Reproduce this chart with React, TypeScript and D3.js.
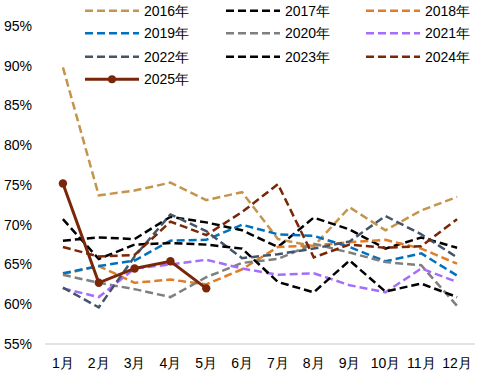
import React from "react";
import * as d3 from "d3";

const months = ["1月","2月","3月","4月","5月","6月","7月","8月","9月","10月","11月","12月"];
const yTicks = [55,60,65,70,75,80,85,90,95];

const s2016 = [89.8,73.7,74.3,75.3,73.1,74.1,68.2,67.3,72.2,69.3,71.8,73.5];
const s2017 = [68.0,68.4,68.2,71.0,70.3,69.3,67.2,70.9,69.4,67.0,68.4,67.1];
const s2018 = [63.8,64.8,62.7,63.1,62.5,64.4,67.2,67.4,67.8,68.1,67.0,65.1];
const s2019 = [63.9,64.8,65.5,68.0,68.1,70.0,68.8,68.6,67.2,65.4,66.4,63.6];
const s2020 = [63.7,62.7,61.9,60.9,63.4,65.2,65.7,67.6,66.5,65.3,64.9,59.8];
const s2021 = [62.0,60.9,64.5,65.0,65.6,64.5,63.7,63.9,62.4,61.5,64.5,62.8];
const s2022 = [62.1,59.6,66.0,71.3,69.2,65.8,66.3,67.0,67.9,71.1,68.8,65.9];
const s2023 = [70.7,65.7,67.5,67.7,67.5,67.0,62.8,61.5,65.5,61.6,62.6,60.9];
const s2024 = [67.2,66.0,66.2,70.4,68.7,71.6,75.1,65.9,67.5,67.1,67.3,70.7];
const s2025 = [75.2,62.7,64.5,65.4,62.0];

const seriesNames = ["2016年","2017年","2018年","2019年","2020年","2021年","2022年","2023年","2024年","2025年"];
const seriesData = [s2016,s2017,s2018,s2019,s2020,s2021,s2022,s2023,s2024,s2025];
const colors = ["#C4944C","#000000","#E07D27","#0071BF","#7F7F7F","#A56EFA","#44546A","#000000","#7A2608","#7A2608"];

export default function App() {
  const W = 485, H = 376;
  const x = d3.scaleBand<string>().domain(months).range([45, 475]).padding(0);
  const y = d3.scaleLinear().domain([55, 95]).range([344, 26]);
  const cx = (i: number) => (x(months[i]) as number) + x.bandwidth() / 2;
  const line = d3.line<number>().x((_, i) => cx(i)).y((d) => y(d)).curve(d3.curveLinear);
  const font = "'Liberation Sans', Arial, sans-serif";

  const legendCols = [85, 226, 366];
  const legendRows = [10.7, 33.3, 56.7, 79.3];

  return (
    <svg width={W} height={H} style={{ position: "absolute", left: 0, top: 0, background: "#fff" }} fontFamily={font}>
      <line x1={45} x2={475} y1={y(55)} y2={y(55)} stroke="#D9D9D9" strokeWidth={1.5} />
      {yTicks.map((t) => (
        <text key={t} x={32} y={y(t)} dy="0.35em" textAnchor="end" fontSize={14} fill="#000">{t}%</text>
      ))}
      {months.map((m, i) => (
        <text key={m} x={cx(i)} y={363} dy="0.35em" textAnchor="middle" fontSize={14} fill="#000">{m}</text>
      ))}
      {seriesData.map((d, k) => k < 9 ? (
        <path key={k} d={line(d) || ""} fill="none" stroke={colors[k]} strokeWidth={2.5} strokeDasharray="8,4" />
      ) : null)}
      <path d={line(s2025) || ""} fill="none" stroke={colors[9]} strokeWidth={3} />
      {s2025.map((v, i) => (
        <circle key={i} cx={cx(i)} cy={y(v)} r={4.2} fill={colors[9]} />
      ))}
      {seriesNames.map((n, k) => {
        const col = k % 3, row = Math.floor(k / 3);
        const lx = legendCols[col], ly = legendRows[row];
        return (
          <g key={n}>
            {k < 9 ? (
              <line x1={lx} x2={lx + 54} y1={ly} y2={ly} stroke={colors[k]} strokeWidth={2.5} strokeDasharray="8,4" />
            ) : (
              <>
                <line x1={lx} x2={lx + 54} y1={ly} y2={ly} stroke={colors[k]} strokeWidth={3} />
                <circle cx={lx + 27} cy={ly} r={4} fill={colors[k]} />
              </>
            )}
            <text x={lx + 59} y={ly} dy="0.35em" fontSize={14} fill="#000">{n}</text>
          </g>
        );
      })}
    </svg>
  );
}
